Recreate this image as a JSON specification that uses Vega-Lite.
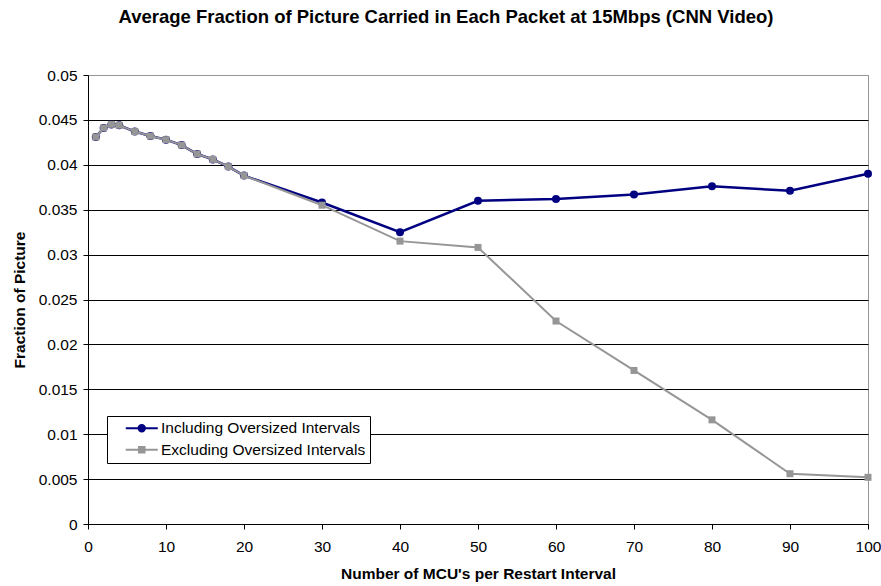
{
  "$schema": "https://vega.github.io/schema/vega-lite/v6.json",
  "width": 780,
  "height": 449,
  "autosize": {"type": "none"},
  "padding": {"left": 88, "top": 75, "right": 13, "bottom": 62},
  "background": "white",
  "title": {
    "text": "Average Fraction of Picture Carried in Each Packet at 15Mbps (CNN Video)",
    "font": "Liberation Sans",
    "fontSize": 18.5,
    "fontWeight": "bold",
    "color": "black",
    "anchor": "middle",
    "frame": "group",
    "dx": -32,
    "baseline": "alphabetic",
    "offset": 27
  },
  "config": {
    "view": {"stroke": "#969696", "strokeWidth": 1},
    "axis": {
      "labelFont": "Liberation Sans",
      "labelFontSize": 15.5,
      "labelColor": "black",
      "titleFont": "Liberation Sans",
      "titleFontSize": 15.5,
      "titleFontWeight": "bold",
      "titleColor": "black",
      "domainColor": "black",
      "domainWidth": 1,
      "tickColor": "black",
      "tickSize": 5,
      "tickWidth": 1
    }
  },
  "data": {
    "values": [
      {"x": 1, "series": "Including Oversized Intervals", "v": 0.0431},
      {"x": 2, "series": "Including Oversized Intervals", "v": 0.0441},
      {"x": 3, "series": "Including Oversized Intervals", "v": 0.0445},
      {"x": 4, "series": "Including Oversized Intervals", "v": 0.0444},
      {"x": 6, "series": "Including Oversized Intervals", "v": 0.0437},
      {"x": 8, "series": "Including Oversized Intervals", "v": 0.0432},
      {"x": 10, "series": "Including Oversized Intervals", "v": 0.0428},
      {"x": 12, "series": "Including Oversized Intervals", "v": 0.0422},
      {"x": 14, "series": "Including Oversized Intervals", "v": 0.0412},
      {"x": 16, "series": "Including Oversized Intervals", "v": 0.0406},
      {"x": 18, "series": "Including Oversized Intervals", "v": 0.0398},
      {"x": 20, "series": "Including Oversized Intervals", "v": 0.0388},
      {"x": 30, "series": "Including Oversized Intervals", "v": 0.0358},
      {"x": 40, "series": "Including Oversized Intervals", "v": 0.0325},
      {"x": 50, "series": "Including Oversized Intervals", "v": 0.0360},
      {"x": 60, "series": "Including Oversized Intervals", "v": 0.0362},
      {"x": 70, "series": "Including Oversized Intervals", "v": 0.0367},
      {"x": 80, "series": "Including Oversized Intervals", "v": 0.0376},
      {"x": 90, "series": "Including Oversized Intervals", "v": 0.0371},
      {"x": 100, "series": "Including Oversized Intervals", "v": 0.0390},
      {"x": 1, "series": "Excluding Oversized Intervals", "v": 0.0431},
      {"x": 2, "series": "Excluding Oversized Intervals", "v": 0.0441},
      {"x": 3, "series": "Excluding Oversized Intervals", "v": 0.0445},
      {"x": 4, "series": "Excluding Oversized Intervals", "v": 0.0444},
      {"x": 6, "series": "Excluding Oversized Intervals", "v": 0.0437},
      {"x": 8, "series": "Excluding Oversized Intervals", "v": 0.0432},
      {"x": 10, "series": "Excluding Oversized Intervals", "v": 0.0428},
      {"x": 12, "series": "Excluding Oversized Intervals", "v": 0.0422},
      {"x": 14, "series": "Excluding Oversized Intervals", "v": 0.0412},
      {"x": 16, "series": "Excluding Oversized Intervals", "v": 0.0406},
      {"x": 18, "series": "Excluding Oversized Intervals", "v": 0.0398},
      {"x": 20, "series": "Excluding Oversized Intervals", "v": 0.0388},
      {"x": 30, "series": "Excluding Oversized Intervals", "v": 0.0355},
      {"x": 40, "series": "Excluding Oversized Intervals", "v": 0.0315},
      {"x": 50, "series": "Excluding Oversized Intervals", "v": 0.0308},
      {"x": 60, "series": "Excluding Oversized Intervals", "v": 0.0226},
      {"x": 70, "series": "Excluding Oversized Intervals", "v": 0.0171},
      {"x": 80, "series": "Excluding Oversized Intervals", "v": 0.0116},
      {"x": 90, "series": "Excluding Oversized Intervals", "v": 0.0056},
      {"x": 100, "series": "Excluding Oversized Intervals", "v": 0.0052}
    ]
  },
  "encoding": {
    "x": {
      "field": "x",
      "type": "quantitative",
      "scale": {"domain": [0, 100], "nice": false},
      "axis": {
        "title": "Number of MCU's per Restart Interval",
        "values": [0, 10, 20, 30, 40, 50, 60, 70, 80, 90, 100],
        "grid": false,
        "labelPadding": 10,
        "titlePadding": 12,
        "labelFlush": false
      }
    },
    "y": {
      "field": "v",
      "type": "quantitative",
      "scale": {"domain": [0, 0.05], "nice": false},
      "axis": {
        "title": "Fraction of Picture",
        "values": [0, 0.005, 0.01, 0.015, 0.02, 0.025, 0.03, 0.035, 0.04, 0.045, 0.05],
        "format": ".3~f",
        "grid": true,
        "gridColor": {"condition": {"test": "datum.value >= 0.0499", "value": "#969696"}, "value": "black"},
        "gridWidth": 1,
        "gridOpacity": 1,
        "labelPadding": 6,
        "titlePadding": 11,
        "labelFlush": false
      }
    },
    "color": {
      "field": "series",
      "type": "nominal",
      "scale": {
        "domain": ["Including Oversized Intervals", "Excluding Oversized Intervals"],
        "range": ["#000080", "#969696"]
      },
      "legend": {
        "title": null,
        "orient": "none",
        "legendX": 19,
        "legendY": 341,
        "strokeColor": "black",
        "fillColor": "white",
        "padding": 4.5,
        "rowPadding": 4.5,
        "symbolSize": 144,
        "symbolStrokeWidth": 2,
        "labelOffset": 34,
        "labelFont": "Liberation Sans",
        "labelFontSize": 15.5,
        "labelColor": "black",
        "labelLimit": 400,
        "labelExpr": "datum.label + '\u00a0\u00a0'",
        "encode": {
          "symbols": {
            "update": {
              "shape": {"signal": "datum.value == 'Including Oversized Intervals' ? 'M1.083,0H6.417M4.283,0A0.533,0.533,0,1,1,3.217,0A0.533,0.533,0,1,1,4.283,0Z' : 'M1.083,0H6.417M3.283,-0.467H4.217V0.467H3.283Z'"},
              "fill": {"signal": "datum.value == 'Including Oversized Intervals' ? '#000080' : '#969696'"},
              "stroke": {"signal": "datum.value == 'Including Oversized Intervals' ? '#000080' : '#969696'"},
              "size": {"value": 144},
              "strokeWidth": {"value": 2},
              "opacity": {"value": 1},
              "fillOpacity": {"value": 1}
            }
          }
        }
      }
    }
  },
  "layer": [
    {
      "transform": [{"filter": "datum.series == 'Including Oversized Intervals'"}],
      "mark": {"type": "line", "strokeWidth": 2.5}
    },
    {
      "transform": [{"filter": "datum.series == 'Including Oversized Intervals'"}],
      "mark": {"type": "point", "shape": "circle", "filled": true, "size": 64, "opacity": 1}
    },
    {
      "transform": [{"filter": "datum.series == 'Excluding Oversized Intervals'"}],
      "mark": {"type": "line", "strokeWidth": 2}
    },
    {
      "transform": [{"filter": "datum.series == 'Excluding Oversized Intervals'"}],
      "mark": {"type": "point", "shape": "square", "filled": true, "size": 49, "opacity": 1}
    }
  ]
}
